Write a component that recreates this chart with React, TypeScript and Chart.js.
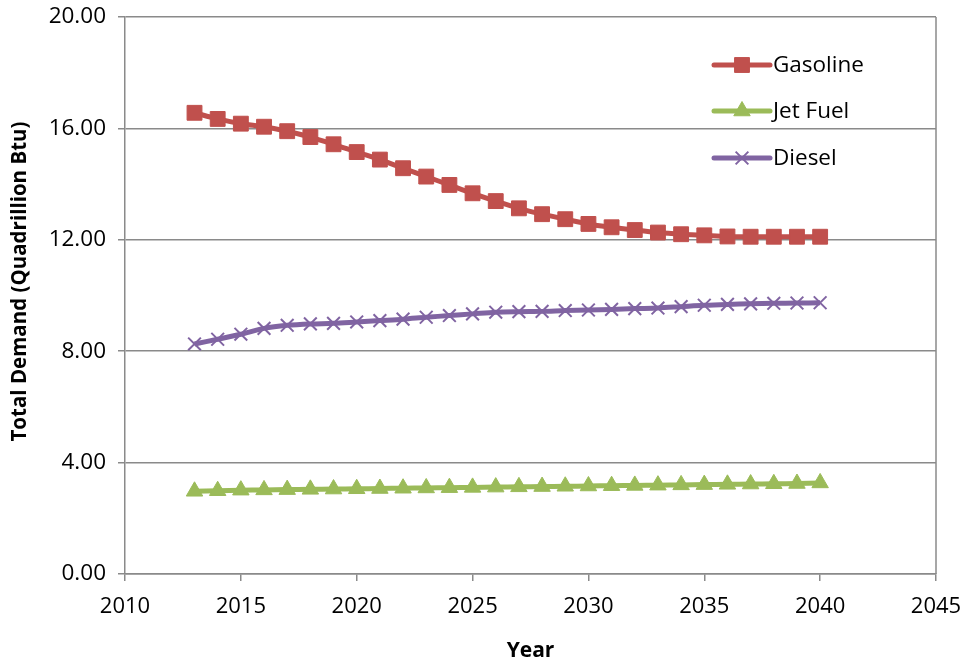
import React, { useEffect, useRef } from "react";
import { Chart, registerables } from "chart.js";
import { drawPoint } from "chart.js/helpers";

Chart.register(...registerables);

// Years of the projection
const years: number[] = [
  2013, 2014, 2015, 2016, 2017, 2018, 2019, 2020, 2021, 2022,
  2023, 2024, 2025, 2026, 2027, 2028, 2029, 2030, 2031, 2032,
  2033, 2034, 2035, 2036, 2037, 2038, 2039, 2040,
];

// Total demand by fuel, quadrillion Btu
const gasoline: number[] = [
  16.56, 16.34, 16.17, 16.06, 15.9, 15.69, 15.43, 15.15, 14.88, 14.57,
  14.27, 13.97, 13.67, 13.39, 13.13, 12.92, 12.74, 12.57, 12.45, 12.35,
  12.26, 12.2, 12.16, 12.12, 12.11, 12.11, 12.11, 12.11,
];
const jetFuel: number[] = [
  2.97, 2.99, 3.01, 3.02, 3.03, 3.04, 3.05, 3.06, 3.07, 3.08,
  3.09, 3.1, 3.11, 3.12, 3.13, 3.14, 3.15, 3.16, 3.17, 3.18,
  3.19, 3.2, 3.21, 3.22, 3.23, 3.24, 3.25, 3.27,
];
const diesel: number[] = [
  8.26, 8.43, 8.61, 8.82, 8.93, 8.98, 9.0, 9.05, 9.1, 9.15,
  9.22, 9.28, 9.34, 9.4, 9.42, 9.43, 9.46, 9.48, 9.5, 9.53,
  9.55, 9.6, 9.65, 9.68, 9.7, 9.72, 9.73, 9.74,
];

const seriesNames: string[] = ["Gasoline", "Jet Fuel", "Diesel"];
const seriesColors: string[] = ["#C0504D", "#9BBB59", "#8064A2"];

const xTitle = "Year";
const yTitle = "Total Demand (Quadrillion Btu)";

const FONT = "'Open Sans', 'Liberation Sans', sans-serif";
const AXIS_GRAY = "#8a8a8a";

const pointStyles = ["rect", "triangle", "crossRot"] as const;
const pointRadii = [10.5, 9.5, 9];

function toPoints(values: number[]) {
  return values.map((v, i) => ({ x: years[i], y: v }));
}

// Legend drawn inside the plot, upper right, with line + marker samples
const insideLegend = {
  id: "insideLegend",
  afterDraw(chart: any) {
    const { ctx, chartArea } = chart;
    const x0 = chartArea.right - 222;
    const x1 = chartArea.right - 166;
    const rows = [48, 94, 141];
    ctx.save();
    chart.data.datasets.forEach((ds: any, i: number) => {
      const y = chartArea.top + rows[i];
      ctx.strokeStyle = ds.borderColor;
      ctx.lineWidth = 5;
      ctx.lineCap = "round";
      ctx.beginPath();
      ctx.moveTo(x0, y);
      ctx.lineTo(x1, y);
      ctx.stroke();
      ctx.fillStyle = ds.pointBackgroundColor;
      ctx.strokeStyle = ds.pointBorderColor;
      ctx.lineWidth = ds.pointBorderWidth;
      ctx.lineCap = "butt";
      drawPoint(
        ctx,
        { pointStyle: ds.pointStyle, radius: ds.pointRadius, rotation: 0, borderWidth: ds.pointBorderWidth },
        (x0 + x1) / 2,
        y
      );
      ctx.fillStyle = "#000";
      ctx.font = `22.5px ${FONT}`;
      ctx.textAlign = "left";
      ctx.textBaseline = "middle";
      ctx.fillText(ds.label, x1 + 3, y + 1);
    });
    ctx.restore();
  },
};

// Right-hand frame line of the plot area and the rotated value-axis title
const frameAndTitle = {
  id: "frameAndTitle",
  afterDraw(chart: any) {
    const { ctx, chartArea } = chart;
    ctx.save();
    ctx.strokeStyle = AXIS_GRAY;
    ctx.lineWidth = 1.5;
    ctx.beginPath();
    ctx.moveTo(chartArea.right, chartArea.top);
    ctx.lineTo(chartArea.right, chartArea.bottom);
    ctx.stroke();

    ctx.translate(20, chartArea.top + (chartArea.bottom - chartArea.top) / 2 - 14);
    ctx.rotate(-Math.PI / 2);
    ctx.fillStyle = "#000";
    ctx.font = `bold 20.5px ${FONT}`;
    ctx.textAlign = "center";
    ctx.textBaseline = "middle";
    ctx.fillText(yTitle, 0, 0);
    ctx.restore();
  },
};

export default function App() {
  const canvasRef = useRef<HTMLCanvasElement | null>(null);

  useEffect(() => {
    document.body.style.margin = "0";
    const canvas = canvasRef.current;
    if (!canvas) return;

    const valueSets = [gasoline, jetFuel, diesel];
    const chart = new Chart(canvas, {
      type: "line",
      data: {
        datasets: valueSets.map((vals, i) => ({
          label: seriesNames[i],
          data: toPoints(vals),
          borderColor: seriesColors[i],
          backgroundColor: seriesColors[i],
          borderWidth: 5,
          tension: 0.3,
          pointStyle: pointStyles[i],
          pointRadius: pointRadii[i],
          pointBackgroundColor: seriesColors[i],
          pointBorderColor: seriesColors[i],
          pointBorderWidth: i === 2 ? 2 : 1,
          fill: false,
        })),
      },
      options: {
        responsive: false,
        animation: false,
        layout: { padding: { left: 0, right: 30, top: 17, bottom: 0 } },
        plugins: {
          legend: { display: false },
          tooltip: { enabled: false },
        },
        scales: {
          x: {
            type: "linear",
            min: 2010,
            max: 2045,
            ticks: {
              stepSize: 5,
              color: "#000",
              font: { family: FONT, size: 22 },
              padding: 13,
              maxRotation: 0,
              callback: (v: any) => String(v),
            },
            grid: {
              drawOnChartArea: false,
              drawTicks: true,
              tickLength: 7,
              color: AXIS_GRAY,
              lineWidth: 1.5,
            },
            border: { display: true, color: AXIS_GRAY, width: 1.5 },
            title: {
              display: true,
              text: xTitle,
              color: "#000",
              font: { family: FONT, size: 21, weight: "bold" },
              padding: { top: 0, bottom: -3 },
            },
            afterFit: (scale: any) => {
              scale.height = 87;
              scale.paddingLeft = 0;
              scale.paddingRight = 0;
            },
          },
          y: {
            min: 0,
            max: 20,
            ticks: {
              stepSize: 4,
              color: "#000",
              font: { family: FONT, size: 22.5 },
              padding: 12,
              callback: (v: any) => Number(v).toFixed(2),
            },
            grid: {
              drawTicks: true,
              tickLength: 7,
              color: AXIS_GRAY,
              lineWidth: 1.5,
            },
            border: { display: true, color: AXIS_GRAY, width: 1.5 },
            title: { display: false },
            afterFit: (scale: any) => {
              scale.width = 125;
              scale.paddingTop = 0;
              scale.paddingBottom = 0;
            },
          },
        },
      },
      plugins: [insideLegend, frameAndTitle],
    });

    return () => chart.destroy();
  }, []);

  return (
    <div style={{ width: 966, height: 661 }}>
      <canvas ref={canvasRef} width={966} height={661} style={{ display: "block" }} />
    </div>
  );
}
